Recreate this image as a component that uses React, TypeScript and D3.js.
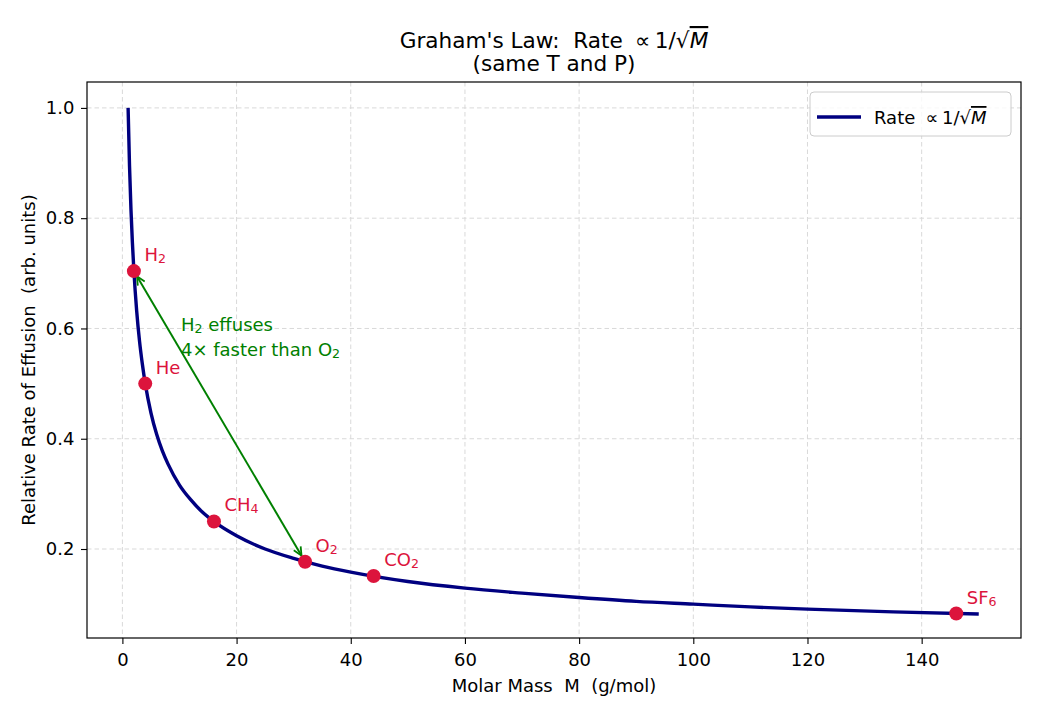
import React, { useEffect, useRef } from 'react';
import * as d3 from 'd3';

// curve samples (rate vs molar mass)
const curveMass = [1, 1.25, 1.5, 1.75, 2, 2.5, 3, 3.5, 4, 5, 6, 7, 8, 10, 12, 14, 16, 20, 25, 30, 35, 40, 50, 60, 70, 80, 90, 100, 110, 120, 135, 150];
const curveRate = [1.0, 0.894, 0.816, 0.756, 0.707, 0.632, 0.577, 0.535, 0.5, 0.447, 0.408, 0.378, 0.354, 0.316, 0.289, 0.267, 0.25, 0.224, 0.2, 0.183, 0.169, 0.158, 0.141, 0.129, 0.12, 0.112, 0.105, 0.1, 0.095, 0.091, 0.086, 0.082];

const gasNames = ['H', 'He', 'CH', 'O', 'CO', 'SF'];
const gasSubs = ['2', '', '4', '2', '2', '6'];
const gasMass = [2.016, 4.003, 16.04, 32.0, 44.01, 146.06];
const gasRate = [0.704, 0.5, 0.25, 0.177, 0.151, 0.083];

const xTicks = [0, 20, 40, 60, 80, 100, 120, 140];
const yTicks = [0.2, 0.4, 0.6, 0.8, 1.0];

const FONT = 'DejaVu Sans, sans-serif';
const NB = '\u00a0';

// "Rate ∝ 1/√M" in the mathtext look
const addRate = (t: any, size: number) => {
  t.append('tspan').text('Rate' + NB);
  t.append('tspan').attr('dx', size * 0.25).text('\u221d');
  t.append('tspan').attr('dx', size * 0.2).text('1/\u221a');
  t.append('tspan').attr('font-style', 'italic').attr('text-decoration', 'overline').text('M');
};

const App = () => {
  const ref = useRef<SVGSVGElement>(null);

  useEffect(() => {
    const svg = d3.select(ref.current);
    svg.selectAll('*').remove();

    const left = 87, right = 1021, top = 82, bottom = 638;
    const x = d3.scaleLinear().domain([-6.2, 157.4]).range([left, right]);
    const y = d3.scaleLinear().domain([0.0386, 1.047]).range([bottom, top]);

    const defs = svg.append('defs');
    defs.append('marker')
      .attr('id', 'head')
      .attr('viewBox', '0 0 10 10')
      .attr('refX', 9.5).attr('refY', 5)
      .attr('markerWidth', 10).attr('markerHeight', 10)
      .attr('markerUnits', 'userSpaceOnUse')
      .attr('orient', 'auto-start-reverse')
      .append('path')
      .attr('d', 'M1,1 L9.5,5 L1,9')
      .attr('fill', 'none')
      .attr('stroke', 'green')
      .attr('stroke-width', 1.8);

    // grid
    const grid = svg.append('g');
    xTicks.forEach((t) => {
      grid.append('line')
        .attr('x1', x(t)).attr('x2', x(t)).attr('y1', top).attr('y2', bottom)
        .attr('stroke', '#d9d9d9').attr('stroke-dasharray', '4.5,3').attr('stroke-width', 1);
    });
    yTicks.forEach((t) => {
      grid.append('line')
        .attr('x1', left).attr('x2', right).attr('y1', y(t)).attr('y2', y(t))
        .attr('stroke', '#d9d9d9').attr('stroke-dasharray', '4.5,3').attr('stroke-width', 1);
    });

    // axes
    const xAxis = svg.append('g')
      .attr('transform', `translate(0,${bottom})`)
      .call(d3.axisBottom(x).tickValues(xTicks).tickSize(6).tickPadding(9).tickFormat(d3.format('d')));
    const yAxis = svg.append('g')
      .attr('transform', `translate(${left},0)`)
      .call(d3.axisLeft(y).tickValues(yTicks).tickSize(6).tickPadding(6.5).tickFormat(d3.format('.1f')));
    [xAxis, yAxis].forEach((a) => {
      a.select('.domain').remove();
      a.selectAll('text').attr('font-family', FONT).attr('font-size', 18).attr('fill', '#000');
      a.selectAll('line').attr('stroke', '#000').attr('stroke-width', 1.1);
    });

    // curve
    const line = d3.line<number>()
      .x((_, i) => x(curveMass[i]))
      .y((d) => y(d))
      .curve(d3.curveMonotoneX);
    svg.append('path')
      .attr('d', line(curveRate))
      .attr('fill', 'none')
      .attr('stroke', '#000080')
      .attr('stroke-width', 3.4);

    // arrow between H2 and O2
    const x1 = x(gasMass[0]), y1 = y(gasRate[0]);
    const x2 = x(gasMass[3]), y2 = y(gasRate[3]);
    const len = Math.hypot(x2 - x1, y2 - y1);
    const ux = (x2 - x1) / len, uy = (y2 - y1) / len;
    svg.append('line')
      .attr('x1', x1 + ux * 6).attr('y1', y1 + uy * 6)
      .attr('x2', x2 - ux * 7).attr('y2', y2 - uy * 7)
      .attr('stroke', 'green').attr('stroke-width', 2)
      .attr('marker-start', 'url(#head)')
      .attr('marker-end', 'url(#head)');

    // points
    svg.append('g').selectAll('circle')
      .data(gasMass)
      .join('circle')
      .attr('cx', (d) => x(d))
      .attr('cy', (_, i) => y(gasRate[i]))
      .attr('r', 7)
      .attr('fill', '#DC143C');

    // gas labels
    gasNames.forEach((n, i) => {
      const t = svg.append('text')
        .attr('x', x(gasMass[i]) + 10.5)
        .attr('y', y(gasRate[i]) - 10)
        .attr('font-family', FONT).attr('font-size', 18).attr('fill', '#DC143C');
      t.append('tspan').text(n);
      if (gasSubs[i]) t.append('tspan').attr('font-size', 12.6).attr('dy', 2).text(gasSubs[i]);
    });

    // annotation text
    const ann = svg.append('text').attr('font-family', FONT).attr('font-size', 18).attr('fill', 'green');
    const l1 = ann.append('tspan').attr('x', 181).attr('y', 331);
    l1.append('tspan').text('H');
    l1.append('tspan').attr('font-size', 12.6).attr('dy', 2).text('2');
    l1.append('tspan').attr('dy', -2).text(NB + 'effuses');
    const l2 = ann.append('tspan').attr('x', 181).attr('y', 356);
    l2.append('tspan').text('4\u00d7 faster than O');
    l2.append('tspan').attr('font-size', 12.6).attr('dy', 2).text('2');

    // frame
    svg.append('rect')
      .attr('x', left).attr('y', top).attr('width', right - left).attr('height', bottom - top)
      .attr('fill', 'none').attr('stroke', '#000').attr('stroke-width', 1.2);

    // legend
    const lg = svg.append('g');
    lg.append('rect')
      .attr('x', 810).attr('y', 92).attr('width', 201).attr('height', 44).attr('rx', 4)
      .attr('fill', 'white').attr('fill-opacity', 0.8).attr('stroke', '#cccccc');
    lg.append('line').attr('x1', 817).attr('x2', 861).attr('y1', 117).attr('y2', 117)
      .attr('stroke', '#000080').attr('stroke-width', 3.4);
    const lt = lg.append('text').attr('x', 874).attr('y', 124)
      .attr('font-family', FONT).attr('font-size', 18).attr('fill', '#000');
    addRate(lt, 18);

    // title (two lines in one text element)
    const title = svg.append('text').attr('text-anchor', 'middle')
      .attr('font-family', FONT).attr('font-size', 21.6).attr('fill', '#000');
    const t1 = title.append('tspan').attr('x', 554).attr('y', 48);
    t1.append('tspan').text("Graham's Law:" + NB + NB);
    addRate(t1, 21.6);
    title.append('tspan').attr('x', 554).attr('y', 71).text('(same T and P)');

    // axis labels
    svg.append('text').attr('x', 554).attr('y', 692).attr('text-anchor', 'middle')
      .attr('font-family', FONT).attr('font-size', 18).attr('fill', '#000')
      .text(`Molar Mass${NB}${NB}M${NB}${NB}(g/mol)`);
    svg.append('text')
      .attr('transform', `translate(34.5,${(top + bottom) / 2}) rotate(-90)`)
      .attr('text-anchor', 'middle')
      .attr('font-family', FONT).attr('font-size', 18).attr('fill', '#000')
      .text(`Relative Rate of Effusion${NB}${NB}(arb. units)`);
  }, []);

  return (
    <svg
      ref={ref}
      width={1040}
      height={715}
      style={{ position: 'absolute', left: 0, top: 0, background: '#fff' }}
    />
  );
};

export default App;
